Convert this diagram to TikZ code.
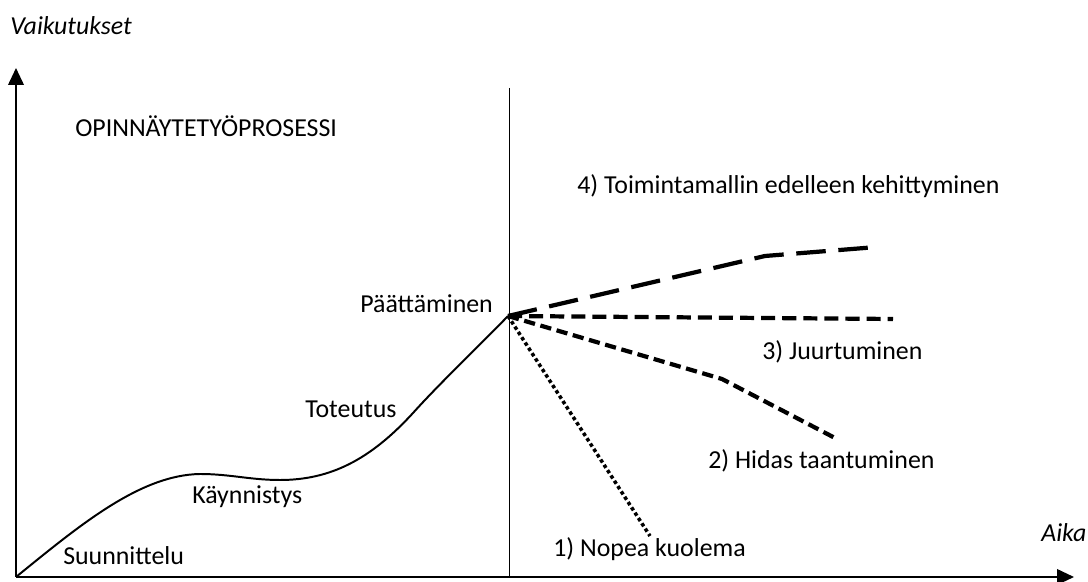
\documentclass[tikz,border=0pt]{standalone}
\usepackage{fontspec}
\setmainfont{Carlito}
\usetikzlibrary{arrows.meta}

\begin{document}
\begin{tikzpicture}[x=0.025cm,y=-0.025cm,
        lbl/.style={anchor=base west,inner sep=0pt,font=\fontsize{18.4}{21}\selectfont},
        axis/.style={line width=1.4pt,-{Triangle[length=12pt,width=11pt]}},
        phase/.style={line width=1.4pt},
        way4/.style={line width=3pt,dash pattern=on 21pt off 9pt},
        way3/.style={line width=3pt,dash pattern=on 10pt off 5pt},
        way2/.style={line width=3pt,dash pattern=on 8pt off 4pt},
        way1/.style={line width=2.5pt,dash pattern=on 2.5pt off 2pt}]
        \useasboundingbox (0,0) rectangle (1088,582);

        %axes
        \coordinate (o) at (16,577);
        \coordinate (ytop) at (16,68);
        \coordinate (xend) at (1074,577);
        \draw[axis] (o) -- (ytop);
        \draw[axis] (o) -- (xend);
        \node[lbl,font=\fontsize{18.4}{21}\selectfont\itshape] (vaik) at (10,35) {Vaikutukset};
        \node[lbl,font=\fontsize{18.4}{21}\selectfont\itshape] (aika) at (1041,542) {Aika};

        %end of the thesis
        \coordinate (top) at (509,88);
        \coordinate (bot) at (509,577);
        \draw[line width=0.7pt] (top) -- (bot);
        \coordinate (end) at (508,316);

        %process curve
        \draw[phase] (o) .. controls (80,525) and (140,475) .. (200,474)
                        .. controls (230,474) and (250,480) .. (280,480)
                        .. controls (330,480) and (370,460) .. (413,413)
                        .. controls (440,383) and (480,345) .. (end);

        %phases
        \node[lbl] (opin) at (75,137) {OPINNÄYTETYÖPROSESSI};
        \node[lbl] (suun) at (63,565) {Suunnittelu};
        \node[lbl] (kayn) at (192,504) {Käynnistys};
        \node[lbl] (tot) at (305,418) {Toteutus};
        \node[lbl] (paat) at (360,313) {Päättäminen};

        %after the thesis
        \coordinate (w4a) at (765,256);
        \coordinate (w4b) at (877,247);
        \coordinate (w3) at (893,319);
        \coordinate (w2a) at (722,379);
        \coordinate (w2b) at (835,438);
        \coordinate (w1) at (650,536);
        \draw[way4] (end) -- (w4a) -- (w4b);
        \draw[way3] (end) -- (w3);
        \draw[way2] (end) -- (w2a) -- (w2b);
        \draw[way1] (end) -- (w1);

        \node[lbl] (t4) at (577,194) {4) Toimintamallin edelleen kehittyminen};
        \node[lbl] (t3) at (762,360) {3) Juurtuminen};
        \node[lbl] (t2) at (708,469) {2) Hidas taantuminen};
        \node[lbl] (t1) at (553,557) {1) Nopea kuolema};
\end{tikzpicture}
\end{document}
